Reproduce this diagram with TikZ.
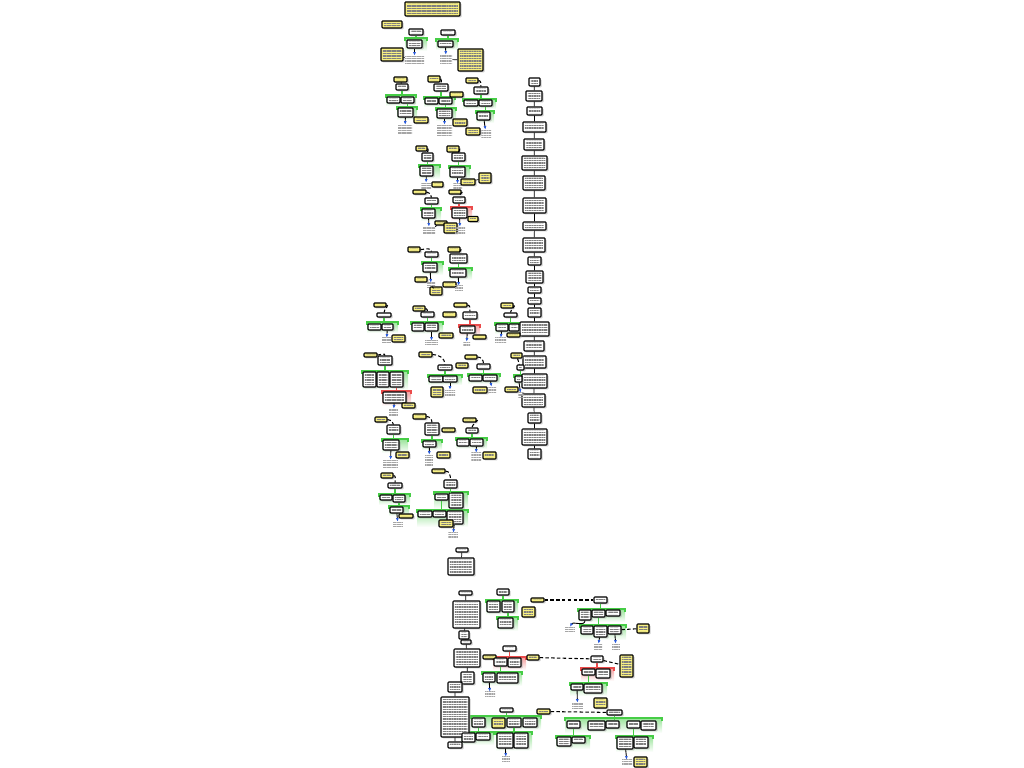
\documentclass[tikz,border=0pt]{standalone}
\usetikzlibrary{shadows,patterns.meta,arrows.meta}
\definecolor{notey}{RGB}{248,240,130}
\definecolor{argg}{RGB}{70,205,70}
\definecolor{argr}{RGB}{235,75,75}
\definecolor{linkb}{RGB}{40,90,220}
% group bar: colour, x1, y, x2, bottom of fade
\newcommand\argbar[5]{%
  \shade[top color=#1!55, bottom color=white] (#2,#3) rectangle (#4,#5);
  \draw[#1, line width=0.8pt] (#2,{#3+3}) -- (#2,#3) -- (#4,#3) -- (#4,{#3+3});}
\begin{document}
\begin{tikzpicture}[x=0.2mm, y=-0.2mm,
  bx/.style 2 args={draw, line width=0.6pt, rounded corners=0.15mm, fill=white, inner sep=0pt,
    minimum width=#1*0.2mm, minimum height=#2*0.2mm,
    drop shadow={shadow xshift=0.3mm, shadow yshift=-0.3mm, fill=black!40},
    path picture={\fill[pattern={Lines[angle=0,distance=0.95pt,line width=0.45pt]}, pattern color=black!50]
      ([shift={(0.35mm,-0.35mm)}]path picture bounding box.north west) rectangle
      ([shift={(-0.35mm,0.35mm)}]path picture bounding box.south east);}},
  nt/.style 2 args={bx={#1}{#2}, fill=notey},
  lb/.style 2 args={inner sep=0pt, minimum width=#1*0.2mm, minimum height=#2*0.2mm,
    path picture={\fill[pattern={Lines[angle=0,distance=0.95pt,line width=0.4pt]}, pattern color=black!35]
      (path picture bounding box.north west) rectangle (path picture bounding box.south east);}},
  gl/.style={argg, line width=0.8pt},
  rl/.style={argr, line width=0.8pt},
  ar/.style={line width=0.5pt, -{Latex[length=0.7mm,width=0.6mm,color=linkb]}},
  ln/.style={line width=0.4pt},
  dsh/.style={line width=0.6pt, dash pattern=on 2pt off 1.3pt}]
\useasboundingbox (0,0) rectangle (1024,768);

% bars under grouped boxes
\argbar{argg}{405}{38}{427}{51}
\argbar{argg}{436}{39}{458}{50}
\argbar{argg}{386}{95}{416}{106}
\argbar{argg}{397}{107}{417}{120}
\argbar{argg}{424}{97}{455}{107}
\argbar{argg}{436}{108}{456}{121}
\argbar{argg}{463}{99}{496}{109}
\argbar{argg}{476}{111}{494}{123}
\argbar{argg}{419}{165}{440}{179}
\argbar{argg}{421}{208}{441}{221}
\argbar{argg}{449}{166}{470}{180}
\argbar{argr}{451}{207}{472}{221}
\argbar{argg}{422}{262}{443}{275}
\argbar{argg}{449}{268}{472}{280}
\argbar{argg}{367}{322}{398}{333}
\argbar{argg}{411}{322}{443}{334}
\argbar{argr}{459}{325}{480}{336}
\argbar{argg}{495}{323}{521}{334}
\argbar{argg}{514}{375}{525}{385}
\argbar{argg}{362}{371}{408}{390}
\argbar{argr}{382}{391}{411}{406}
\argbar{argg}{428}{375}{462}{385}
\argbar{argg}{468}{374}{500}{384}
\argbar{argg}{382}{439}{408}{453}
\argbar{argg}{422}{440}{442}{450}
\argbar{argg}{456}{438}{487}{449}
\argbar{argg}{379}{494}{410}{505}
\argbar{argg}{389}{506}{409}{516}
\argbar{argg}{434}{492}{468}{509}
\argbar{argg}{417}{510}{468}{527}
\argbar{argg}{486}{600}{518}{615}
\argbar{argg}{497}{617}{518}{631}
\argbar{argr}{493}{657}{526}{670}
\argbar{argg}{482}{672}{522}{686}
\argbar{argg}{471}{716}{541}{730}
\argbar{argg}{461}{732}{494}{745}
\argbar{argg}{496}{732}{532}{751}
\argbar{argg}{578}{609}{625}{622}
\argbar{argg}{580}{625}{626}{640}
\argbar{argr}{581}{668}{614}{681}
\argbar{argg}{570}{683}{607}{696}
\argbar{argg}{565}{718}{662}{733}
\argbar{argg}{556}{736}{590}{749}
\argbar{argg}{616}{736}{653}{752}

% top
\node (T0) at (432.5,9) [nt={55}{14}] {};
\node (T1) at (392,24.5) [nt={20}{7}] {};
\node (a1) at (416,32) [bx={14}{6}] {};
\node (a2) at (414.5,44) [bx={15}{8}] {};
\node (a3) at (414.5,60) [lb={19}{8}] {};
\node (a4) at (392,54.5) [nt={22}{13}] {};
\node (b1) at (448,32.5) [bx={14}{5}] {};
\node (b2) at (445.5,44) [bx={15}{6}] {};
\node (b3) at (446,59.5) [lb={12}{9}] {};
\node (b4) at (470.5,60) [nt={25}{22}] {};

% second row
\node (c0) at (400.5,79.5) [nt={13}{5}] {};
\node (c1) at (402,87) [bx={12}{6}] {};
\node (c2) at (393.5,100) [bx={13}{6}] {};
\node (c3) at (407.5,100) [bx={13}{6}] {};
\node (c4) at (405.5,112.5) [bx={15}{9}] {};
\node (c5) at (421,120) [nt={14}{6}] {};
\node (c6) at (405,130) [lb={14}{10}] {};
\node (d0) at (434,79) [nt={12}{6}] {};
\node (d1) at (441,87.5) [bx={14}{7}] {};
\node (d2) at (456.5,94.5) [nt={13}{5}] {};
\node (d3) at (431.5,101) [bx={13}{6}] {};
\node (d4) at (445.5,101) [bx={13}{6}] {};
\node (d5) at (444.5,113.5) [bx={15}{9}] {};
\node (d6) at (460,122.5) [nt={14}{7}] {};
\node (d7) at (444.5,131) [lb={15}{12}] {};
\node (e0) at (472,80.5) [nt={12}{5}] {};
\node (e1) at (481,90.5) [bx={14}{7}] {};
\node (e2) at (471,103) [bx={14}{6}] {};
\node (e3) at (485.5,103) [bx={13}{6}] {};
\node (e4) at (483.5,116) [bx={13}{8}] {};
\node (e5) at (473,131.5) [nt={14}{7}] {};
\node (e6) at (486,134) [lb={10}{8}] {};

% right column
\node (k1) at (534.5,82) [bx={11}{8}] {};
\node (k2) at (534,96) [bx={16}{10}] {};
\node (k3) at (534.5,111) [bx={15}{8}] {};
\node (k4) at (534.5,127) [bx={23}{10}] {};
\node (k5) at (534,144.5) [bx={20}{11}] {};
\node (k6) at (534.5,163) [bx={25}{14}] {};
\node (k7) at (534,183) [bx={22}{14}] {};
\node (k8) at (534.5,205.5) [bx={23}{15}] {};
\node (k9) at (534.5,226) [bx={23}{8}] {};
\node (k10) at (534,245) [bx={22}{14}] {};
\node (k11) at (534.5,261) [bx={13}{8}] {};
\node (k12) at (534.5,277) [bx={17}{12}] {};
\node (k13) at (534.5,290) [bx={13}{6}] {};
\node (k14) at (534.5,301) [bx={13}{6}] {};
\node (k15) at (534.5,312.5) [bx={13}{9}] {};
\node (k16) at (534.5,329) [bx={29}{14}] {};
\node (k17) at (534,346) [bx={20}{10}] {};
\node (k18) at (534.5,362) [bx={23}{12}] {};
\node (k19) at (534.5,381) [bx={25}{14}] {};
\node (k20) at (533.5,400.5) [bx={23}{13}] {};
\node (k21) at (534.5,418) [bx={13}{10}] {};
\node (k22) at (534.5,437) [bx={25}{16}] {};
\node (k23) at (534.5,454) [bx={13}{10}] {};

% third row
\node (f0) at (421.5,148.5) [nt={11}{5}] {};
\node (f1) at (427.5,157) [bx={11}{8}] {};
\node (f2) at (426.5,171) [bx={13}{10}] {};
\node (f3) at (426,186) [lb={10}{6}] {};
\node (f4) at (437.5,184.5) [nt={11}{5}] {};
\node (f5) at (419.5,192) [nt={13}{4}] {};
\node (f6) at (431.5,201) [bx={13}{6}] {};
\node (f7) at (428.5,213.5) [bx={13}{9}] {};
\node (f8) at (429,230.5) [lb={12}{7}] {};
\node (f9) at (441,223) [nt={12}{4}] {};
\node (f10) at (450.5,228) [nt={13}{10}] {};
\node (g0) at (453,149) [nt={12}{6}] {};
\node (g1) at (458.5,157) [bx={13}{8}] {};
\node (g2) at (457.5,172) [bx={15}{10}] {};
\node (g3) at (457.5,187) [lb={9}{6}] {};
\node (g4) at (468,182) [nt={14}{6}] {};
\node (g5) at (485,178) [nt={12}{10}] {};
\node (g6) at (455,192) [nt={12}{4}] {};
\node (g7) at (459,200) [bx={12}{6}] {};
\node (g8) at (459.5,213) [bx={15}{10}] {};
\node (g9) at (473,219) [nt={10}{5}] {};
\node (g10) at (460,230.5) [lb={10}{7}] {};

% fourth row
\node (h0) at (414,249.5) [nt={12}{5}] {};
\node (h1) at (431.5,254.5) [bx={13}{5}] {};
\node (h2) at (430,267.5) [bx={14}{9}] {};
\node (h3) at (421,279.5) [nt={12}{5}] {};
\node (h4) at (431,285.5) [lb={8}{5}] {};
\node (h5) at (436,291) [nt={12}{8}] {};
\node (i0) at (454,249.5) [nt={12}{5}] {};
\node (i1) at (458.5,258.5) [bx={17}{9}] {};
\node (i2) at (458,273) [bx={16}{8}] {};
\node (i3) at (449.5,284.5) [nt={13}{5}] {};
\node (i4) at (459,289) [lb={8}{6}] {};

% fifth row
\node (j0) at (380,305) [nt={12}{4}] {};
\node (j1) at (384,315) [bx={14}{4}] {};
\node (j2) at (374.5,327) [bx={13}{6}] {};
\node (j3) at (387.5,327) [bx={11}{6}] {};
\node (j4) at (398.5,338.5) [nt={13}{7}] {};
\node (j5) at (386.5,340.5) [lb={9}{5}] {};
\node (l0) at (419,308.5) [nt={12}{5}] {};
\node (l1) at (427.5,314.5) [bx={13}{5}] {};
\node (l2) at (418,327) [bx={12}{8}] {};
\node (l3) at (431.5,327) [bx={13}{8}] {};
\node (l4) at (449.5,314.5) [nt={13}{5}] {};
\node (l5) at (446,335.5) [nt={14}{5}] {};
\node (l6) at (431.5,343) [lb={13}{4}] {};
\node (m0) at (460.5,305) [nt={13}{4}] {};
\node (m1) at (470,315.5) [bx={14}{7}] {};
\node (m2) at (467.5,329.5) [bx={15}{7}] {};
\node (m3) at (479.5,337) [nt={13}{4}] {};
\node (m4) at (466.5,344) [lb={7}{4}] {};
\node (n0) at (507,305.5) [nt={12}{5}] {};
\node (n1) at (510.5,315) [bx={13}{4}] {};
\node (n2) at (502,327.5) [bx={12}{7}] {};
\node (n3) at (514,327.5) [bx={10}{7}] {};
\node (n4) at (513.5,335) [nt={13}{4}] {};
\node (n5) at (500.5,340.5) [lb={11}{5}] {};
\node (o0) at (516.5,355.5) [nt={11}{5}] {};
\node (o1) at (520.5,367.5) [bx={7}{5}] {};
\node (o2) at (518.5,379) [bx={7}{6}] {};
\node (o3) at (511.5,389.5) [nt={13}{5}] {};
\node (o4) at (521,395.5) [lb={6}{5}] {};

% sixth row
\node (p0) at (370.5,355) [nt={13}{4}] {};
\node (p1) at (385,360.5) [bx={14}{9}] {};
\node (p2) at (369.5,379.5) [bx={13}{15}] {};
\node (p3) at (383,379.5) [bx={12}{15}] {};
\node (p4) at (396.5,379.5) [bx={13}{15}] {};
\node (p5) at (394.5,397.5) [bx={23}{11}] {};
\node (p6) at (408.5,405.5) [nt={13}{5}] {};
\node (p7) at (393.5,413) [lb={9}{8}] {};
\node (q0) at (425.5,354.5) [nt={13}{5}] {};
\node (q1) at (445,367.5) [bx={14}{5}] {};
\node (q2) at (462,365.5) [nt={12}{5}] {};
\node (q3) at (436,379) [bx={14}{6}] {};
\node (q4) at (450,379) [bx={14}{6}] {};
\node (q5) at (437,392) [nt={12}{10}] {};
\node (q6) at (450,393.5) [lb={10}{7}] {};
\node (r0) at (471,357) [nt={12}{4}] {};
\node (r1) at (483.5,366.5) [bx={13}{5}] {};
\node (r2) at (475.5,378) [bx={13}{6}] {};
\node (r3) at (490,378) [bx={14}{6}] {};
\node (r4) at (480,390) [nt={14}{6}] {};
\node (r5) at (492,390) [lb={8}{6}] {};

% seventh row
\node (s0) at (381,419.5) [nt={12}{5}] {};
\node (s1) at (393.5,429.5) [bx={13}{9}] {};
\node (s2) at (391,445) [bx={16}{10}] {};
\node (s3) at (402.5,455) [nt={13}{6}] {};
\node (s4) at (390.5,464) [lb={15}{8}] {};
\node (t0) at (419.5,416.5) [nt={13}{5}] {};
\node (t1) at (432,429) [bx={14}{12}] {};
\node (t2) at (448.5,430) [nt={13}{4}] {};
\node (t3) at (429.5,444) [bx={13}{6}] {};
\node (t4) at (443.5,455) [nt={13}{6}] {};
\node (t5) at (429,461) [lb={8}{12}] {};
\node (u0) at (469.5,420) [nt={13}{4}] {};
\node (u1) at (472,430.5) [bx={12}{5}] {};
\node (u2) at (463,442.5) [bx={12}{7}] {};
\node (u3) at (476.5,442.5) [bx={13}{7}] {};
\node (u4) at (489.5,455.5) [nt={13}{7}] {};
\node (u5) at (476,457) [lb={10}{8}] {};

% eighth row
\node (v0) at (387,475.5) [nt={12}{5}] {};
\node (v1) at (395,485.5) [bx={14}{5}] {};
\node (v2) at (386,497.5) [bx={12}{5}] {};
\node (v3) at (399,498.5) [bx={12}{7}] {};
\node (v4) at (396.5,510) [bx={13}{6}] {};
\node (v5) at (406,516) [nt={14}{4}] {};
\node (v6) at (398,524.5) [lb={10}{5}] {};
\node (w0) at (438.5,471) [nt={13}{4}] {};
\node (w1) at (450.5,484) [bx={13}{8}] {};
\node (w2) at (441.5,497) [bx={13}{6}] {};
\node (w3) at (456,500.5) [bx={14}{15}] {};
\node (w4) at (425,514) [bx={14}{6}] {};
\node (w5) at (439.5,514) [bx={13}{6}] {};
\node (w6) at (455,517.5) [bx={16}{13}] {};
\node (w7) at (446,523.5) [nt={14}{7}] {};
\node (w8) at (453,535.5) [lb={10}{5}] {};

% middle
\node (x1) at (462,550) [bx={12}{4}] {};
\node (x2) at (461,566.5) [bx={26}{17}] {};

% bottom column
\node (y1) at (465.5,593) [bx={13}{4}] {};
\node (y2) at (466.5,614.5) [bx={27}{27}] {};
\node (y3) at (464,635) [bx={10}{8}] {};
\node (y4) at (466,642) [bx={10}{4}] {};
\node (y5) at (467,658) [bx={26}{18}] {};
\node (y6) at (467.5,678) [bx={13}{12}] {};
\node (y7) at (455,687) [bx={14}{10}] {};
\node (y8) at (455,717) [bx={28}{40}] {};
\node (y9) at (455,745) [bx={14}{6}] {};

% bottom middle
\node (z1) at (503,592) [bx={12}{6}] {};
\node (z2) at (493.5,606.5) [bx={13}{11}] {};
\node (z3) at (508,606.5) [bx={12}{11}] {};
\node (z4) at (505.5,623) [bx={15}{10}] {};
\node (z5) at (528.5,612) [nt={13}{10}] {};
\node (z6) at (537.5,600) [nt={13}{4}] {};
\node (U0) at (489.5,657) [nt={13}{4}] {};
\node (U1) at (509.5,648.5) [bx={13}{5}] {};
\node (U2) at (500.5,662) [bx={13}{8}] {};
\node (U3) at (514.5,662.5) [bx={13}{9}] {};
\node (U4) at (533,657.5) [nt={12}{5}] {};
\node (U5) at (489,677.5) [bx={12}{9}] {};
\node (U6) at (507.5,678) [bx={21}{10}] {};
\node (U7) at (490,695) [lb={10}{6}] {};
\node (V0) at (543.5,711.5) [nt={13}{5}] {};
\node (V1) at (506.5,710) [bx={13}{4}] {};
\node (V2) at (478.5,722.5) [bx={13}{9}] {};
\node (V3) at (498.5,723) [nt={13}{10}] {};
\node (V4) at (514,722.5) [bx={14}{9}] {};
\node (V5) at (530,722.5) [bx={14}{9}] {};
\node (V6) at (468.5,737.5) [bx={13}{9}] {};
\node (V7) at (483,736.5) [bx={14}{7}] {};
\node (V8) at (505,740.5) [bx={16}{15}] {};
\node (V9) at (521,740.5) [bx={14}{15}] {};
\node (V10) at (506,759.5) [lb={8}{5}] {};

% bottom right
\node (W1) at (600.5,600) [bx={13}{6}] {};
\node (W2) at (585,615) [bx={12}{10}] {};
\node (W3) at (598.5,613.5) [bx={13}{7}] {};
\node (W4) at (613,613) [bx={14}{6}] {};
\node (W5) at (587,630) [bx={12}{8}] {};
\node (W6) at (600.5,631.5) [bx={13}{11}] {};
\node (W7) at (614.5,630) [bx={13}{8}] {};
\node (W8) at (643,628.5) [nt={12}{9}] {};
\node (W9) at (570,629.5) [lb={10}{5}] {};
\node (W10) at (598,647) [lb={8}{6}] {};
\node (W11) at (616,647) [lb={8}{6}] {};
\node (X1) at (597,659) [bx={12}{6}] {};
\node (X2) at (626.5,666) [nt={13}{22}] {};
\node (X3) at (588.5,672) [bx={13}{6}] {};
\node (X4) at (603,673.5) [bx={14}{9}] {};
\node (X5) at (577,687) [bx={12}{6}] {};
\node (X6) at (593,688.5) [bx={18}{9}] {};
\node (X7) at (577.5,706) [lb={11}{6}] {};
\node (X8) at (600.5,703) [nt={13}{10}] {};
\node (Y1) at (614.5,712.5) [bx={15}{5}] {};
\node (Y2) at (573.5,724.5) [bx={13}{7}] {};
\node (Y3) at (596.5,725.5) [bx={17}{9}] {};
\node (Y4) at (612.5,724.5) [bx={13}{7}] {};
\node (Y5) at (633.5,724.5) [bx={13}{7}] {};
\node (Y6) at (648.5,725.5) [bx={15}{9}] {};
\node (Y7) at (564,741.5) [bx={14}{9}] {};
\node (Y8) at (578.5,740) [bx={13}{6}] {};
\node (Y9) at (625,743) [bx={16}{12}] {};
\node (Y10) at (641,742.5) [bx={14}{11}] {};
\node (Y11) at (627,762.5) [lb={10}{5}] {};
\node (Y12) at (640.5,762) [nt={13}{10}] {};

% connectors
\draw[gl] (a1) -- (a1 |- a2.north);
\draw[ar] (a2) -- (a3);
\draw[ln] (a4) -- (a3);
\draw[gl] (b1) -- (b1 |- b2.north);
\draw[ar] (b2) -- (b3);
\draw[ln] (b3) -- (b4);

\draw[dsh] (c0) -- (c1);
\draw[gl] (c1) -- (c1 |- c2.north);
\draw[gl] (c3) -- (c3 |- c4.north);
\draw[ar] (c4) -- (c6);
\draw[dsh] (d0.east) to[out=0,in=90] (d1.north);
\draw[gl] (d1) -- (d1 |- d3.north);
\draw[gl] (d4) -- (d4 |- d5.north);
\draw[ar] (d5) -- (d7);
\draw[dsh] (e0.east) to[out=0,in=90] (e1.north);
\draw[gl] (e1) -- (e1 |- e2.north);
\draw[gl] (e3) -- (e3 |- e4.north);
\draw[ar] (e4) -- (e6);

\draw (k1) -- (k2) -- (k3) -- (k4) -- (k5) -- (k6) -- (k7) -- (k8) -- (k9) -- (k10) -- (k11) -- (k12)
  -- (k13) -- (k14) -- (k15) -- (k16) -- (k17) -- (k18) -- (k19) -- (k20) -- (k21) -- (k22) -- (k23);

\draw[dsh] (f0.east) to[out=0,in=90] (f1.north);
\draw[gl] (f1) -- (f1 |- f2.north);
\draw[ar] (f2) -- (f3);
\draw[ln] (f3) -- (f4);
\draw[dsh] (f5.east) to[out=0,in=90] (f6.north);
\draw[gl] (f6) -- (f6 |- f7.north);
\draw[ar] (f7) -- (f8);
\draw[ln] (f8) -- (f9);
\draw[dsh] (g0.east) to[out=0,in=90] (g1.north);
\draw[gl] (g1) -- (g1 |- g2.north);
\draw[ar] (g2) -- (g3);
\draw[ln] (g4) -- (g5);
\draw[dsh] (g6.east) to[out=0,in=90] (g7.north);
\draw[rl] (g7) -- (g7 |- g8.north);
\draw[ar] (g8) -- (g10);

\draw[dsh] (h0.east) to[out=0,in=90] (h1.north);
\draw[gl] (h1) -- (h1 |- h2.north);
\draw[ar] (h2) -- (h4);
\draw[ln] (h4) -- (h5);
\draw[dsh] (i0.east) to[out=0,in=90] (i1.north);
\draw[gl] (i1) -- (i1 |- i2.north);
\draw[ar] (i2) -- (i4);

\draw[dsh] (j0.east) to[out=0,in=90] (j1.north);
\draw[gl] (j1) -- (j1 |- j2.north);
\draw[ar] (j3) -- (j5);
\draw[dsh] (l0.east) to[out=0,in=90] (l1.north);
\draw[gl] (l1) -- (l1 |- l2.north);
\draw[ar] (l3) -- (l6);
\draw[dsh] (m0.east) to[out=0,in=90] (m1.north);
\draw[rl] (m1) -- (m1 |- m2.north);
\draw[ar] (m2) -- (m4);
\draw[dsh] (n0.east) to[out=0,in=90] (n1.north);
\draw[gl] (n1) -- (n1 |- n2.north);
\draw[ar] (n2) -- (n5);
\draw[dsh] (o0) -- (o1);
\draw[gl] (o1) -- (o1 |- o2.north);
\draw[ar] (o2) -- (o4);

\draw[dsh] (p0.east) to[out=0,in=90] (p1.north);
\draw[gl] (p1) -- (p1 |- p2.north);
\draw[rl] (p4) -- (p4 |- p5.north);
\draw[ar] (p5) -- (p7);
\draw[dsh] (q0.east) to[out=0,in=90] (q1.north);
\draw[gl] (q1) -- (q1 |- q3.north);
\draw[ar] (q4) -- (q6);
\draw[dsh] (r0.east) to[out=0,in=90] (r1.north);
\draw[gl] (r1) -- (r1 |- r2.north);
\draw[ar] (r3) -- (r5);

\draw[dsh] (s0.east) to[out=0,in=90] (s1.north);
\draw[gl] (s1) -- (s1 |- s2.north);
\draw[ar] (s2) -- (s4);
\draw[dsh] (t0.east) to[out=0,in=90] (t1.north);
\draw[gl] (t1) -- (t1 |- t3.north);
\draw[ar] (t3) -- (t5);
\draw[dsh] (u0.east) to[out=0,in=90] (u1.north);
\draw[gl] (u1) -- (u1 |- u2.north);
\draw[ar] (u3) -- (u5);

\draw[dsh] (v0.east) to[out=0,in=90] (v1.north);
\draw[gl] (v1) -- (v1 |- v2.north);
\draw[gl] (v3) -- (v3 |- v4.north);
\draw[ar] (v4) -- (v6);
\draw[dsh] (w0.east) to[out=0,in=90] (w1.north);
\draw[gl] (w1) -- (w1 |- w2.north);
\draw[gl] (w2) -- (w2 |- w4.north);
\draw[ar] (w6) -- (w8);

\draw (x1) -- (x2);
\draw (y1) -- (y2) -- (y3) -- (y4) -- (y5) -- (y6) -- (y7) -- (y8) -- (y9);

\draw[gl] (z1) -- (z1 |- z2.north);
\draw[gl] (z3) -- (z3 |- z4.north);
\draw[dsh] (z6) -- (W1);
\draw[rl] (U1) -- (U1 |- U2.north);
\draw[gl] (U2) -- (U2 |- U5.north);
\draw[ar] (U5) -- (U7);
\draw[dsh] (U4) -- (X1);
\draw[gl] (V1) -- (V1 |- V2.north);
\draw[gl] (V2) -- (V2 |- V6.north);
\draw[gl] (V4) -- (V4 |- V8.north);
\draw[ar] (V8) -- (V10);
\draw[dsh] (V0) -- (Y1);

\draw[gl] (W1) -- (W1 |- W3.north);
\draw[gl] (W3) -- (W3 |- W6.north);
\draw[ar] (W2.south) to[out=-90,in=60] (W9.north);
\draw[ar] (W6) -- (W10);
\draw[ar] (W7) -- (W11);
\draw[dsh] (W8) -- (W7);
\draw[rl] (X1) -- (X1 |- X3.north);
\draw[dsh] (X1) -- (X2);
\draw[gl] (X3) -- (X3 |- X5.north);
\draw[ar] (X5) -- (X7);
\draw[gl] (Y1) -- (Y1 |- Y4.north);
\draw[gl] (Y2) -- (Y2 |- Y7.north);
\draw[gl] (Y5) -- (Y5 |- Y9.north);
\draw[ar] (Y9) -- (Y11);
\end{tikzpicture}
\end{document}
